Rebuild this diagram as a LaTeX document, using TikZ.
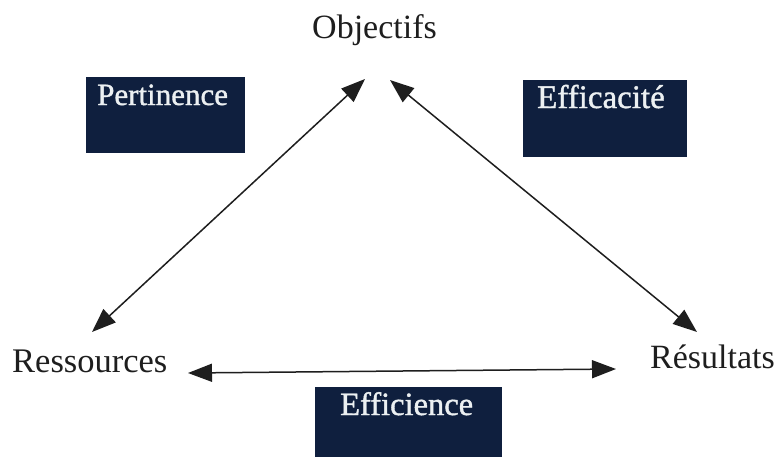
\documentclass[tikz,border=0pt]{standalone}
\usepackage{fontspec}
\setmainfont{Liberation Serif}
\newfontfamily\panelfont[FakeBold=1.2]{Liberation Serif}
\usetikzlibrary{arrows.meta}
\definecolor{navy}{RGB}{15,31,62}
\definecolor{ink}{RGB}{30,30,30}
\definecolor{paper}{RGB}{236,240,242}
\tikzset{
  label/.style={inner sep=0pt, anchor=base west, text=ink, font=\fontsize{34}{37}\selectfont},
  panel/.style={fill=navy, draw=none, inner sep=0pt},
  paneltext/.style={inner sep=0pt, anchor=base west, text=paper},
  head/.tip={Triangle[length=24pt,width=18pt]},
  link/.style={draw=ink, line width=1.5pt, head-head}
}
\begin{document}
\begin{tikzpicture}[x=1pt,y=-1pt]
  \useasboundingbox (0,0) rectangle (777,456);
  \fill[white] (0,0) rectangle (777,456);

  % dark panels
  \path[panel] (86,77) rectangle (245,153);
  \path[panel] (523,80) rectangle (687,157);
  \path[panel] (315,387) rectangle (502,460);
  \node[paneltext, font=\panelfont\fontsize{31}{34}\selectfont] (pert) at (97,105) {Pertinence};
  \node[paneltext, font=\panelfont\fontsize{33}{36}\selectfont] (effa) at (537,108) {Efficacité};
  \node[paneltext, font=\panelfont\fontsize{32.5}{36}\selectfont] (effi) at (340,415) {Efficience};

  % corner labels
  \node[label] (obj) at (312,38) {Objectifs};
  \node[label, font=\fontsize{34.5}{37}\selectfont] (res) at (12,372) {Ressources};
  \node[label] (resu) at (650,368) {Résultats};

  % arrow end points
  \coordinate (objL) at (365,79);
  \coordinate (objR) at (390,80);
  \coordinate (resT) at (92,332);
  \coordinate (resuT) at (697,332);
  \coordinate (resE) at (188,373);
  \coordinate (resuW) at (616,369);

  \draw[link] (resT) -- (objL);
  \draw[link] (objR) -- (resuT);
  \draw[link] (resE) -- (resuW);
\end{tikzpicture}
\end{document}
